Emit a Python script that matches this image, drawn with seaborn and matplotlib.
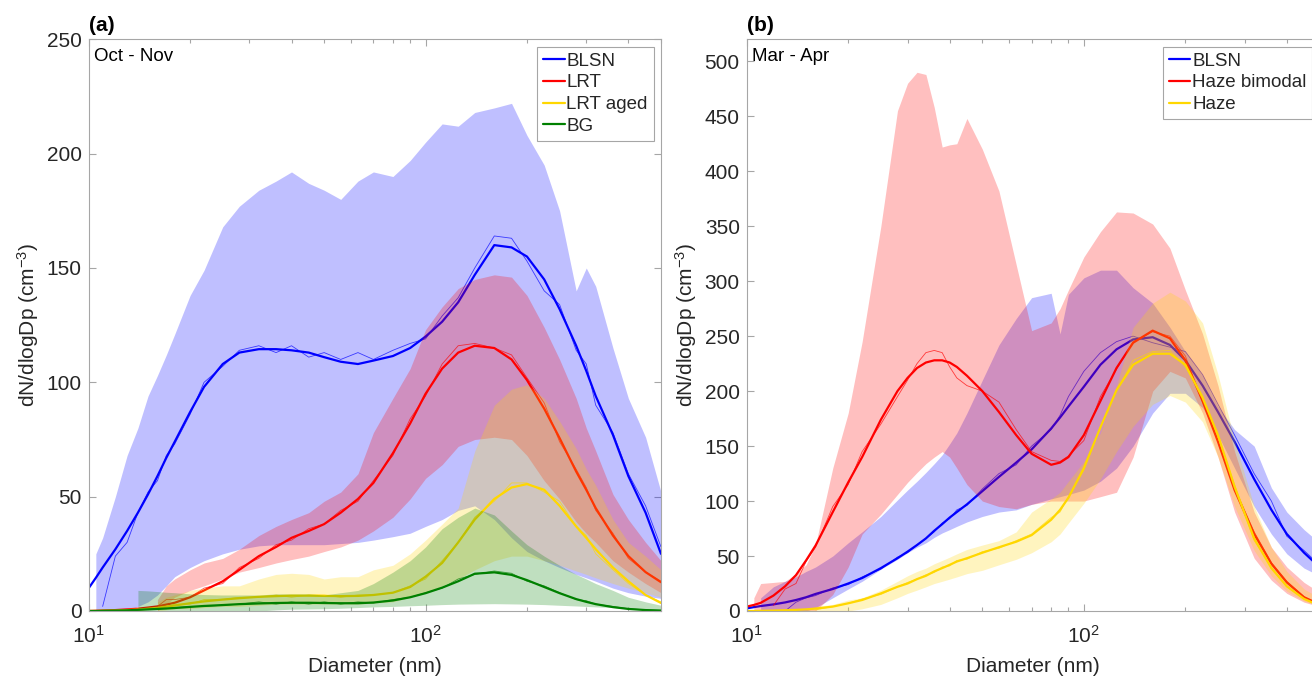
import numpy as np
import matplotlib
matplotlib.use("Agg")
import matplotlib.pyplot as plt
import seaborn as sns
from matplotlib.lines import Line2D
from matplotlib.ticker import NullFormatter

nan = np.nan

# ---------------- Panel (a): Oct - Nov ----------------
diam_a = [10, 10.5, 11, 12, 13, 14, 15, 16, 17, 18,
          20, 22, 25, 28, 32, 36, 40, 45, 50, 56,
          63, 70, 80, 90, 100, 112, 125, 140, 160, 180,
          200, 225, 250, 280, 300, 320, 360, 400, 450, 500]

a_blsn_hi = [nan, 25, 32, 50, 68, 80, 94, 103, 112, 121,
             138, 149, 168, 177, 184, 188, 192, 187, 184, 180,
             188, 192, 190, 197, 205, 213, 212, 218, 220, 222,
             208, 195, 175, 140, 150, 142, 115, 93, 76, 52]
a_blsn_lo = [nan, 0, 0, 0, 0, 2, 4, 7, 11, 15,
             19, 22, 25, 27, 28.5, 29, 29, 29, 29, 29.5,
             30, 31, 32.5, 34, 37, 40, 44, 46, 40, 32,
             26, 22, 19, 16, 14.5, 13, 10, 8, 6.5, 5.5]
a_blsn_fit = [10, 14.5, 19, 27, 35, 43, 51, 59, 67, 74,
              87, 98, 108, 113, 114.5, 114.5, 114, 113, 111, 109,
              108, 109.5, 111.5, 115, 120, 126.5, 135, 147, 160, 159,
              155, 145, 132, 116, 105, 94, 77, 59, 43, 25]
a_blsn_raw = [nan, nan, 2, 24, 30, 43, 52, 57, 68, 73,
              86, 100, 107, 114, 116, 113, 116, 111, 113, 110,
              113, 110, 114, 117, 119, 129, 137, 150, 164, 163,
              153, 140, 134, 114, 108, 90, 78, 60, 46, 28]

a_lrt_hi = [nan, nan, nan, nan, nan, nan, nan, 5, 11, 14,
            18, 21, 23, 27, 33, 37, 40, 43, 48, 52,
            60, 78, 93, 106, 123, 133, 141, 145, 147, 146,
            138, 124, 110, 93, 80, 70, 51, 40, 30, 22]
a_lrt_lo = [nan, nan, nan, nan, nan, nan, nan, 0, 3, 6,
            9, 11, 14, 17, 19, 21, 22.5, 24, 26, 28,
            31, 35, 41, 49, 58, 64, 72, 75, 76, 75,
            68, 57, 49, 39, 34, 30, 22, 17, 12, 8]
a_lrt_fit = [0, 0.1, 0.2, 0.4, 0.7, 1, 1.5, 2, 2.8, 3.6,
             6, 9, 13, 18, 24, 28, 32, 35, 38, 43,
             49, 56, 69, 82, 95, 106, 113, 116, 115, 110,
             101, 88.5, 75.6, 61, 53, 45, 33, 24, 17, 12.6]
a_lrt_raw = [nan, nan, nan, nan, nan, nan, nan, 2, 5, 5,
             6, 10, 12, 19, 23, 29, 31, 36, 38, 44,
             48, 57, 68, 84, 94, 108, 116, 117, 115, 112,
             102, 91, 74, 62, 54, 44, 34, 23, 17, 13]

a_aged_hi = [nan, nan, nan, nan, nan, nan, nan, 4, 6, 7,
             9, 10, 11, 11, 14, 16, 16.5, 16, 14, 15,
             15, 18, 20, 25, 31, 38, 45, 70, 90, 97,
             99, 93, 83, 71, 62, 55, 40, 30, 24, 18]
a_aged_lo = [nan, nan, nan, nan, nan, nan, nan, 0, 0.5, 1,
             1, 1.5, 2, 2, 2.5, 3, 3, 3, 3, 3,
             3, 3.5, 4, 6, 8, 11, 14, 18, 22, 24,
             24, 22, 20, 17.5, 16, 14.5, 12, 10, 8, 6]
a_aged_fit = [0, 0, 0.1, 0.2, 0.4, 0.6, 1, 1.4, 1.9, 2.4,
              3.4, 4.2, 5, 5.6, 6.2, 6.5, 6.7, 6.7, 6.6, 6.5,
              6.6, 7, 8, 10.5, 15, 21, 30, 40, 49, 54,
              55.5, 53, 46, 37, 32, 27, 19, 13, 7, 3.5]
a_aged_raw = [nan, nan, nan, nan, nan, nan, nan, 1, 2, 3,
              3, 5, 5, 6, 6, 7, 6, 7, 7, 6,
              7, 7, 8, 11, 14, 22, 30, 41, 48, 56,
              56, 52, 48, 37, 33, 25, 18, 12, 7, 4]

a_bg_hi = [nan, nan, nan, nan, nan, 9, 8.8, 8.5, 8.2, 8,
           7.5, 7.2, 7, 7, 7, 7.5, 7.5, 7.5, 7, 8,
           9, 12, 17, 22, 28, 36, 41, 45, 42, 35,
           29, 24, 20, 16, 14, 12, 9, 6, 4, 2.5]
a_bg_lo = [nan, nan, nan, nan, nan, 0, 0, 0, 0, 0,
           0, 0, 0, 0, 0, 0.5, 0.8, 0.9, 1, 1.2,
           1.5, 1.8, 2, 2.3, 2.5, 2.8, 3, 3.1, 3.2, 3.1,
           3, 2.8, 2.5, 2.2, 2, 1.8, 1.5, 1, 0.5, 0.3]
a_bg_fit = [0, 0, 0.1, 0.2, 0.3, 0.5, 0.7, 0.9, 1.1, 1.3,
            1.8, 2.2, 2.6, 3, 3.3, 3.5, 3.6, 3.6, 3.5, 3.4,
            3.4, 3.7, 4.6, 6, 7.8, 10.2, 13, 16.3, 16.9, 15.8,
            13.5, 10.5, 7.8, 5.2, 4, 3, 1.7, 0.9, 0.4, 0.2]
a_bg_raw = [nan, nan, nan, nan, nan, 0.5, 0.7, 1, 1, 1.5,
            2, 2, 2.5, 3, 4, 3, 4, 3, 4, 3,
            4, 3.5, 5, 6, 8, 10, 14, 16, 17.5, 16.5,
            13, 11, 8, 5, 4.5, 3, 2, 1, 0.5, 0.2]

labels_a = ["BLSN", "LRT", "LRT aged", "BG"]

# ---------------- Panel (b): Mar - Apr ----------------
diam_b = [10, 10.5, 11, 12, 13, 14, 15, 16, 18, 20,
          22, 25, 28, 30, 32, 34, 36, 38, 40, 42,
          45, 50, 56, 63, 70, 80, 85, 90, 100, 112,
          125, 140, 160, 180, 200, 225, 250, 280, 320, 360,
          400, 450, 500]

b_blsn_hi = [nan, nan, 12, 22, 27, 31, 36, 40, 50, 62,
             72, 86, 101, 110, 118, 126, 134, 142, 152, 162,
             180, 210, 242, 266, 285, 289, 252, 288, 303, 310,
             310, 294, 280, 258, 236, 214, 186, 165, 150, 112,
             90, 74, 62]
b_blsn_lo = [nan, nan, 0, 0, 0, 0, 0, 3, 12, 20,
             27, 38, 47, 53, 58, 62, 67, 71, 74, 77,
             81, 86, 90, 92, 97, 102, 104, 106, 110, 118,
             130, 150, 180, 198, 198, 185, 160, 130, 95, 70,
             52, 39, 32]
b_blsn_fit = [2.4, 3.5, 4.5, 6, 7.8, 10, 12.5, 15.5, 20, 25,
              30, 39, 48, 54, 60, 66, 73, 79, 85, 90,
              97, 109, 122, 135, 147, 166, 176, 186, 204, 224,
              238, 247, 249, 242, 228, 205, 181, 154, 120, 92,
              70, 53, 40]
b_blsn_raw = [nan, nan, nan, nan, 0, 8, 12, 14, 21, 24,
              31, 38, 49, 53, 60, 66, 72, 80, 84, 92,
              96, 111, 125, 133, 150, 165, 178, 195, 218, 235,
              245, 250, 244, 240, 236, 215, 188, 160, 125, 100,
              68, 55, 42]

b_hb_hi = [nan, 12, 25, 26, 27, 34, 42, 60, 130, 180,
           245, 350, 455, 480, 490, 488, 458, 422, 424, 425,
           448, 420, 382, 315, 255, 262, 275, 292, 322, 345,
           363, 362, 352, 330, 292, 252, 205, 145, 90, 58,
           40, 26, 17]
b_hb_lo = [nan, 0, 0, 0, 0, 0, 0, 0, 15, 40,
           70, 88, 106, 117, 126, 134, 140, 145, 140, 130,
           115, 100, 95, 93, 97, 100, 100, 100, 100, 104,
           108, 140, 200, 218, 212, 180, 140, 90, 48, 28,
           16, 8, 4]
b_hb_fit = [4, 5.5, 7.4, 14, 22.5, 32.6, 46, 59.5, 90, 117,
            140, 174, 200, 212, 221, 226, 228, 228, 226, 222,
            214, 200, 181, 160, 143, 133, 135, 140, 160, 191,
            221, 244, 255, 248, 228, 191, 154, 110, 70, 43,
            26, 12.5, 6]
b_hb_raw = [nan, nan, nan, 5, 20, 25, 45, 58, 95, 115,
            145, 170, 195, 210, 225, 235, 237, 235, 222, 212,
            205, 200, 190, 165, 145, 137, 136, 141, 155, 195,
            220, 245, 254, 250, 232, 190, 158, 112, 72, 44,
            27, 13, 6]

b_hz_hi = [nan, nan, nan, nan, nan, nan, 2, 4, 6, 10,
           12, 19, 27, 32, 36, 39, 43, 46, 49, 52,
           56, 60, 64, 72, 90, 102, 108, 118, 136, 162,
           205, 258, 280, 290, 282, 262, 215, 155, 95, 58,
           36, 20, 12]
b_hz_lo = [nan, nan, nan, nan, nan, nan, 0, 0, 0, 0,
           2, 6, 12, 16, 19, 22, 25, 27, 29, 31,
           34, 37, 42, 47, 53, 63, 70, 80, 98, 120,
           145, 168, 188, 196, 190, 172, 140, 95, 55, 32,
           18, 9, 4]
b_hz_fit = [0, 0, 0.2, 0.4, 0.7, 1, 1.5, 2.2, 4, 7,
            10, 16, 22, 25, 29, 32, 36, 39, 42, 45,
            48, 53, 58, 63, 69, 83, 92, 103, 130, 167,
            201, 224, 234, 234, 224, 194, 160, 113, 66, 39,
            22.5, 11, 5]
b_hz_raw = [nan, nan, nan, nan, nan, nan, nan, 1, 4, 7,
            11, 15, 22, 26, 29, 33, 35, 40, 41, 46,
            47, 54, 57, 64, 70, 85, 90, 104, 128, 168,
            200, 228, 236, 237, 222, 196, 158, 115, 64, 40,
            22, 11, 5]

labels_b = ["BLSN", "Haze bimodal", "Haze"]

# ---------------- styling ----------------
BLUE, RED, YELLOW, GREEN = "#0000FF", "#FF0000", "#FFD700", "#008000"
SPINE = "#A6A6A6"
TEXT = "#262626"

sns.set_theme(style="ticks")
plt.rcParams["font.family"] = ["Liberation Sans", "DejaVu Sans"]
plt.rcParams["mathtext.default"] = "regular"

fig = plt.figure(figsize=(13.12, 6.79), dpi=100)
W, H = 1312.0, 679.0
y0 = 1 - 611 / H
hgt = (611 - 39.3) / H
axA = fig.add_axes([88.7 / W, y0, (661 - 88.7) / W, hgt])
axB = fig.add_axes([746.7 / W, y0, (1319.5 - 746.7) / W, hgt])


def draw(ax, diam, groups):
    ax.set_xscale("log")
    d = np.asarray(diam, float)
    z = 1
    for lo, hi, fit, raw, color in groups:
        lo = np.asarray(lo, float)
        hi = np.asarray(hi, float)
        fit = np.asarray(fit, float)
        raw = np.asarray(raw, float)
        m = ~(np.isnan(lo) | np.isnan(hi))
        ax.fill_between(d[m], lo[m], hi[m], color=color, alpha=0.25,
                        lw=0, zorder=z)
        mr = ~np.isnan(raw)
        sns.lineplot(x=d[mr], y=raw[mr], ax=ax, color=color, lw=0.6,
                     alpha=0.7, zorder=z + 1, estimator=None, sort=False)
        sns.lineplot(x=d, y=fit, ax=ax, color=color, lw=1.6,
                     zorder=z + 2, estimator=None, sort=False,
                     solid_joinstyle="round")
        z += 3


draw(axA, diam_a, [
    (a_blsn_lo, a_blsn_hi, a_blsn_fit, a_blsn_raw, BLUE),
    (a_lrt_lo, a_lrt_hi, a_lrt_fit, a_lrt_raw, RED),
    (a_aged_lo, a_aged_hi, a_aged_fit, a_aged_raw, YELLOW),
    (a_bg_lo, a_bg_hi, a_bg_fit, a_bg_raw, GREEN),
])
draw(axB, diam_b, [
    (b_blsn_lo, b_blsn_hi, b_blsn_fit, b_blsn_raw, BLUE),
    (b_hb_lo, b_hb_hi, b_hb_fit, b_hb_raw, RED),
    (b_hz_lo, b_hz_hi, b_hz_fit, b_hz_raw, YELLOW),
])

for ax, ymax, yt, tag, season, labs, cols in [
    (axA, 250, np.arange(0, 251, 50), "(a)", "Oct - Nov", labels_a,
     [BLUE, RED, YELLOW, GREEN]),
    (axB, 520, np.arange(0, 501, 50), "(b)", "Mar - Apr", labels_b,
     [BLUE, RED, YELLOW]),
]:
    ax.set_xlim(10, 500)
    ax.set_ylim(0, ymax)
    ax.set_yticks(yt)
    ax.xaxis.set_minor_formatter(NullFormatter())
    ax.set_facecolor("white")
    for s in ax.spines.values():
        s.set_color(SPINE)
        s.set_linewidth(0.8)
        s.set_zorder(50)
    ax.tick_params(which="both", direction="in", top=True, right=True,
                   color=SPINE, labelcolor=TEXT, labelsize=15, width=0.8)
    ax.tick_params(which="major", length=5)
    ax.tick_params(which="minor", length=3)
    ax.tick_params(axis="x", pad=10)
    ax.tick_params(axis="y", pad=5)
    ax.set_xlabel("Diameter (nm)", fontsize=15, color=TEXT, labelpad=7)
    ax.set_ylabel("dN/dlogDp (cm$^{-3}$)", fontsize=15, color=TEXT, labelpad=4)
    ax.text(0.0, 1.008, tag, transform=ax.transAxes, fontsize=15,
            fontweight="bold", color="black", va="bottom", ha="left")
    ax.text(0.010, 0.985, season, transform=ax.transAxes, fontsize=13.5,
            color="black", va="top", ha="left", zorder=60)
    handles = [Line2D([], [], color=c, lw=1.6) for c in cols]
    leg = ax.legend(handles, labs, loc="upper right", fontsize=13.5,
                    frameon=True, fancybox=False, edgecolor=SPINE,
                    framealpha=1, handlelength=1.15, handletextpad=0.1,
                    borderpad=0.3, labelspacing=0.25, borderaxespad=0.4)
    leg.get_frame().set_linewidth(0.8)
    leg.set_zorder(100)

fig.savefig("out.png", dpi=100)
